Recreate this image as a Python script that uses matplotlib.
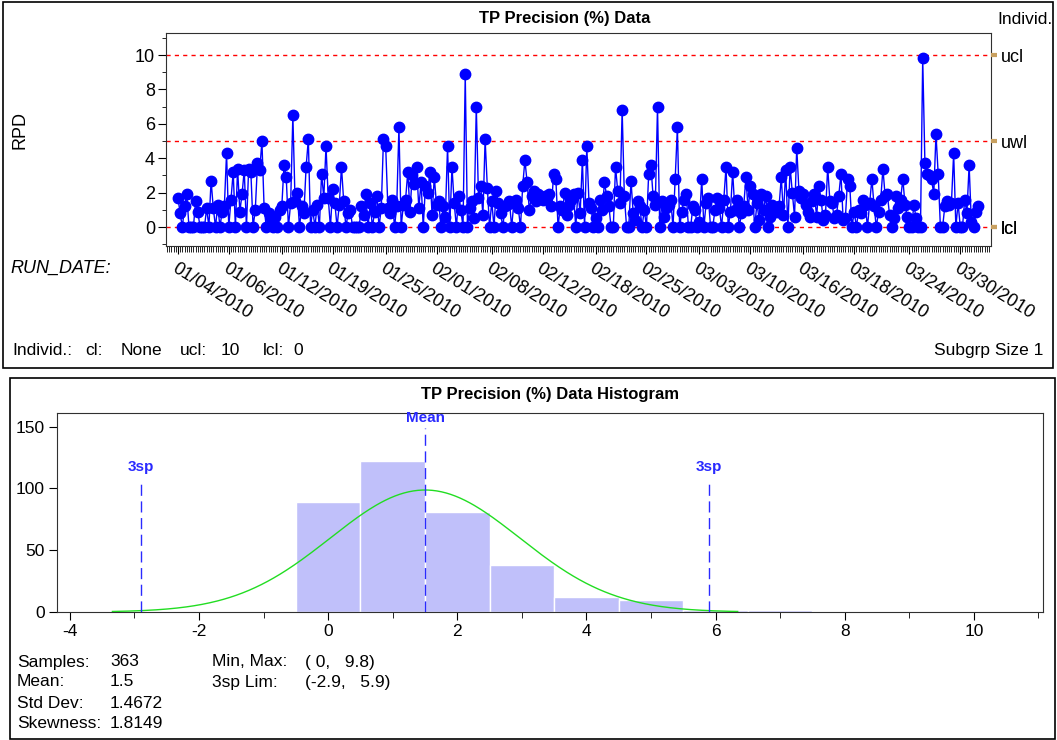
import matplotlib
matplotlib.use('Agg')
import matplotlib.pyplot as plt
import numpy as np
from matplotlib.patches import Rectangle
from matplotlib.ticker import MultipleLocator, FixedLocator

plt.rcParams['font.family'] = ['Liberation Sans', 'DejaVu Sans']
plt.rcParams['axes.unicode_minus'] = False

# ---------------- data ----------------
seg0 = [1.7, 0.8, 0, 1.2, 1.9, 0, 0, 0, 1.5, 0.9, 0, 0, 0, 1.1, 0, 2.7, 1.1, 0, 1.3, 0, 0.9, 1.2, 4.3]
seg1 = [0, 1.6, 3.2, 0, 3.4, 0.9, 1.9, 3.3, 0, 3.4, 3.2, 0, 1.0, 3.7, 3.3, 5.0, 1.1, 0, 0.8, 0.5, 0, 0.6, 0, 1.0]
seg2 = [1.2, 3.6, 2.9, 0, 1.4, 6.5, 1.5, 2.0, 0, 1.2, 0.8, 3.5, 5.1, 0, 1.0, 0, 1.3, 0, 3.1, 1.7, 4.7, 1.7, 0]
seg3 = [2.2, 1.4, 0, 1.3, 3.5, 1.5, 0, 0.8, 1.0, 0, 0, 0, 0, 1.2, 0.7, 1.9, 0, 1.4, 0, 0.9, 1.8, 0, 1.1, 5.1]
seg4 = [4.7, 1.1, 0.8, 1.6, 0, 1.2, 5.8, 0, 1.3, 1.6, 3.2, 0.9, 3.0, 2.5, 3.5, 1.1, 2.6, 0, 2.4, 2.0, 3.2, 0.7, 2.9, 1.3]
seg5 = [1.5, 0, 1.2, 0.6, 4.7, 0, 3.5, 1.4, 0, 1.8, 1.0, 0, 8.9, 0, 1.1, 1.5, 0.5, 7.0, 1.7, 2.4, 0.7, 5.1, 2.3]
seg6 = [0, 1.5, 0, 2.1, 1.4, 0.8, 0, 1.2, 1.3, 1.5, 0, 1.4, 1.6, 1.1, 0, 2.4, 3.9, 2.6, 1.0, 1.8, 2.1, 1.5, 1.9, 1.7]
seg7 = [1.6, 1.8, 1.7, 1.9, 1.2, 3.1, 2.8, 0, 1.2, 1.0, 2.0, 0.7, 1.3, 1.6, 1.9, 0, 2.0, 0.8, 3.9, 0, 4.7, 1.4, 1.1, 0]
seg8 = [0.5, 0, 1.6, 1.0, 2.6, 1.8, 1.2, 0, 0, 3.5, 2.1, 1.4, 6.8, 1.8, 0, 0, 2.7, 0.8, 0.4, 1.5, 1.2, 0, 1.0, 0]
seg9 = [3.1, 3.6, 1.8, 1.3, 7.0, 0, 1.5, 0.6, 1.1, 1.3, 1.6, 0, 2.8, 5.8, 0, 0.9, 1.6, 1.9, 0, 0, 1.2, 1.0, 0, 0.3]
seg10 = [2.8, 0, 1.4, 1.7, 0, 0, 1.0, 1.7, 1.1, 0, 1.6, 3.5, 0, 0.9, 3.2, 1.0, 1.6, 0, 0.8, 1.2, 2.9, 1.0, 2.4]
seg11 = [1.9, 0, 1.4, 0.4, 1.9, 1.0, 1.8, 0, 0.6, 1.3, 1.0, 0.9, 1.2, 2.9, 0.7, 3.3, 0, 3.5, 2.0, 0.6, 4.6, 2.1, 1.7]
seg12 = [1.9, 1.3, 0.9, 0.6, 1.5, 1.9, 0.6, 2.4, 1.6, 0.4, 0.7, 3.5, 1.5, 1.4, 0.5, 0.7, 1.8, 3.1, 0.4, 0.5, 2.8, 2.4, 0, 0.9]
seg13 = [0, 1.0, 0.8, 1.6, 1.3, 0, 1.4, 2.8, 1.2, 0, 0.9, 1.6, 3.4, 1.8, 1.9, 0.7, 0, 0.5, 1.8, 1.1, 1.6, 2.8, 1.3, 0.6]
seg14 = [0, 0, 1.3, 0.5, 0, 0, 9.8, 3.7, 3.1, 3.0, 2.8, 1.9, 5.4, 3.1, 0, 0, 1.2, 1.5, 1.3, 1.4, 4.3, 0, 1.4, 0]
seg15 = [0, 1.6, 0.8, 3.6, 0.3, 0, 0.9, 1.2]

date_idx = [0, 23, 47, 70, 94, 117, 142, 165, 189, 212, 236, 259, 283, 306, 331, 354]
date_labels = ['01/04/2010', '01/06/2010', '01/12/2010', '01/19/2010', '01/25/2010',
               '02/01/2010', '02/08/2010', '02/12/2010', '02/18/2010', '02/25/2010',
               '03/03/2010', '03/10/2010', '03/16/2010', '03/18/2010', '03/24/2010',
               '03/30/2010']

limit_values = [10, 5, 0, 0]
limit_names = ['ucl', 'uwl', 'lwl', 'lcl']

hist_centers = [0, 1, 2, 3, 4, 5, 6, 7]
hist_counts = [89, 122, 81, 38, 12, 10, 2, 2]

n_samples = 363
mean_val = 1.5
std_val = 1.4672
lim_lo, lim_hi = -2.9, 5.9

stats_left = [('Samples:', '363'), ('Mean:', '1.5'), ('Std Dev:', '1.4672'), ('Skewness:', '1.8149')]
stats_right = [('Min, Max:', '( 0,   9.8)'), ('3sp Lim:', '(-2.9,   5.9)')]

rpd = (seg0 + seg1 + seg2 + seg3 + seg4 + seg5 + seg6 + seg7 + seg8 + seg9 +
       seg10 + seg11 + seg12 + seg13 + seg14 + seg15)
x = np.arange(len(rpd))

# ---------------- figure ----------------
W, H = 1057, 740
fig = plt.figure(figsize=(W / 100, H / 100), dpi=100)


def fx(px):
    return px / W


def fy(py):
    return 1 - py / H


fig.add_artist(Rectangle((fx(3), fy(368)), fx(1053) - fx(3), fy(2) - fy(368),
                         transform=fig.transFigure, fill=False, ec='black', lw=1.2))
fig.add_artist(Rectangle((fx(10), fy(739)), fx(1055) - fx(10), fy(378) - fy(739),
                         transform=fig.transFigure, fill=False, ec='black', lw=1.2))

# ---------- top: individuals chart ----------
ax1 = fig.add_axes([fx(166), fy(246), fx(991) - fx(166), fy(33) - fy(246)])
for v in [10, 5, 0]:
    ax1.axhline(v, color='#ff0000', lw=1, ls=(0, (3, 3)), zorder=1)
ax1.plot(x, rpd, color='#0000ff', lw=1, marker='o', ms=7.5, mfc='#0000ff', mec='#0000ff', zorder=3)
ax1.set_xlim(-5.4, 367.9)
ax1.set_ylim(-1.1, 11.28)
ax1.set_yticks([0, 2, 4, 6, 8, 10])
ax1.yaxis.set_minor_locator(MultipleLocator(1))
ax1.tick_params(axis='y', which='major', length=6, labelsize=13, pad=2)
ax1.tick_params(axis='y', which='minor', length=3)
ax1.set_xticks(date_idx)
ax1.set_xticklabels(date_labels, rotation=-32, ha='left', va='top', rotation_mode='anchor', fontsize=13)
ax1.xaxis.set_minor_locator(MultipleLocator(1))
ax1.tick_params(axis='x', which='minor', length=4, width=0.6)
ax1.tick_params(axis='x', which='major', length=6, width=0.8, pad=4)
for s in ax1.spines.values():
    s.set_color('#303030')

ax1r = ax1.twinx()
ax1r.set_ylim(ax1.get_ylim())
ax1r.yaxis.set_major_locator(FixedLocator(limit_values))
ax1r.set_yticklabels(limit_names, fontsize=13)
ax1r.tick_params(axis='y', length=4, width=3, color='#c8a060', pad=3)
for s in ax1r.spines.values():
    s.set_visible(False)

fig.text(fx(565), fy(18), 'TP Precision (%) Data', weight='bold', fontsize=12, ha='center', va='center')
fig.text(fx(997), fy(20), 'Individ.', fontsize=12.5, va='center')
fig.text(fx(20), fy(130), 'RPD', rotation=90, ha='center', va='center', fontsize=13)
fig.text(fx(10), fy(268), 'RUN_DATE:', style='italic', fontsize=13, va='center')
for txt, px in [('Individ.:', 12), ('cl:', 85), ('None', 121), ('ucl:', 180), ('10', 221), ('lcl:', 263), ('0', 293)]:
    fig.text(fx(px), fy(351), txt, fontsize=12.5, va='center')
fig.text(fx(1043), fy(351), 'Subgrp Size 1', fontsize=12.5, va='center', ha='right')

# ---------- bottom: histogram ----------
ax2 = fig.add_axes([fx(57), fy(612), fx(1043) - fx(57), fy(413) - fy(612)])
ax2.bar(hist_centers, hist_counts, width=1, color='#c0c0fa', edgecolor='white', lw=1, zorder=2)
xs = np.linspace(mean_val - 3.3 * std_val, mean_val + 3.3 * std_val, 400)
ys = n_samples / (std_val * np.sqrt(2 * np.pi)) * np.exp(-0.5 * ((xs - mean_val) / std_val) ** 2)
ax2.plot(xs, ys, color='#22dd22', lw=1, zorder=3)

ax2.plot([mean_val, mean_val], [0, 149], color='#2a2aff', lw=1, dashes=(8, 4), zorder=4)
ax2.text(mean_val, 157, 'Mean', color='#2a2aff', weight='bold', fontsize=11, ha='center', va='center', clip_on=False)
for v in [lim_lo, lim_hi]:
    ax2.plot([v, v], [0, 105], color='#2a2aff', lw=1, dashes=(8, 4), zorder=4)
    ax2.text(v, 117, '3sp', color='#2a2aff', weight='bold', fontsize=11, ha='center', va='center')

ax2.set_xlim(-4.2, 11.07)
ax2.set_ylim(0, 161)
ax2.xaxis.set_major_locator(MultipleLocator(2))
ax2.xaxis.set_minor_locator(MultipleLocator(1))
ax2.set_yticks([0, 50, 100, 150])
ax2.tick_params(axis='both', which='major', length=6, labelsize=12.5, pad=3)
ax2.tick_params(axis='x', which='minor', length=4)
for s in ax2.spines.values():
    s.set_color('#303030')

fig.text(fx(550), fy(395), 'TP Precision (%) Data Histogram', weight='bold', fontsize=12, ha='center', va='center')

rows_y = [662, 682, 703, 723]
for (lab, val), py in zip(stats_left, rows_y):
    fig.text(fx(17), fy(py), lab, fontsize=12.5, va='center')
    fig.text(fx(110), fy(py), val, fontsize=12.5, va='center')
for (lab, val), py in zip(stats_right, rows_y):
    fig.text(fx(212), fy(py), lab, fontsize=12.5, va='center')
    fig.text(fx(305), fy(py), val, fontsize=12.5, va='center')

fig.savefig('out.png', dpi=100)
